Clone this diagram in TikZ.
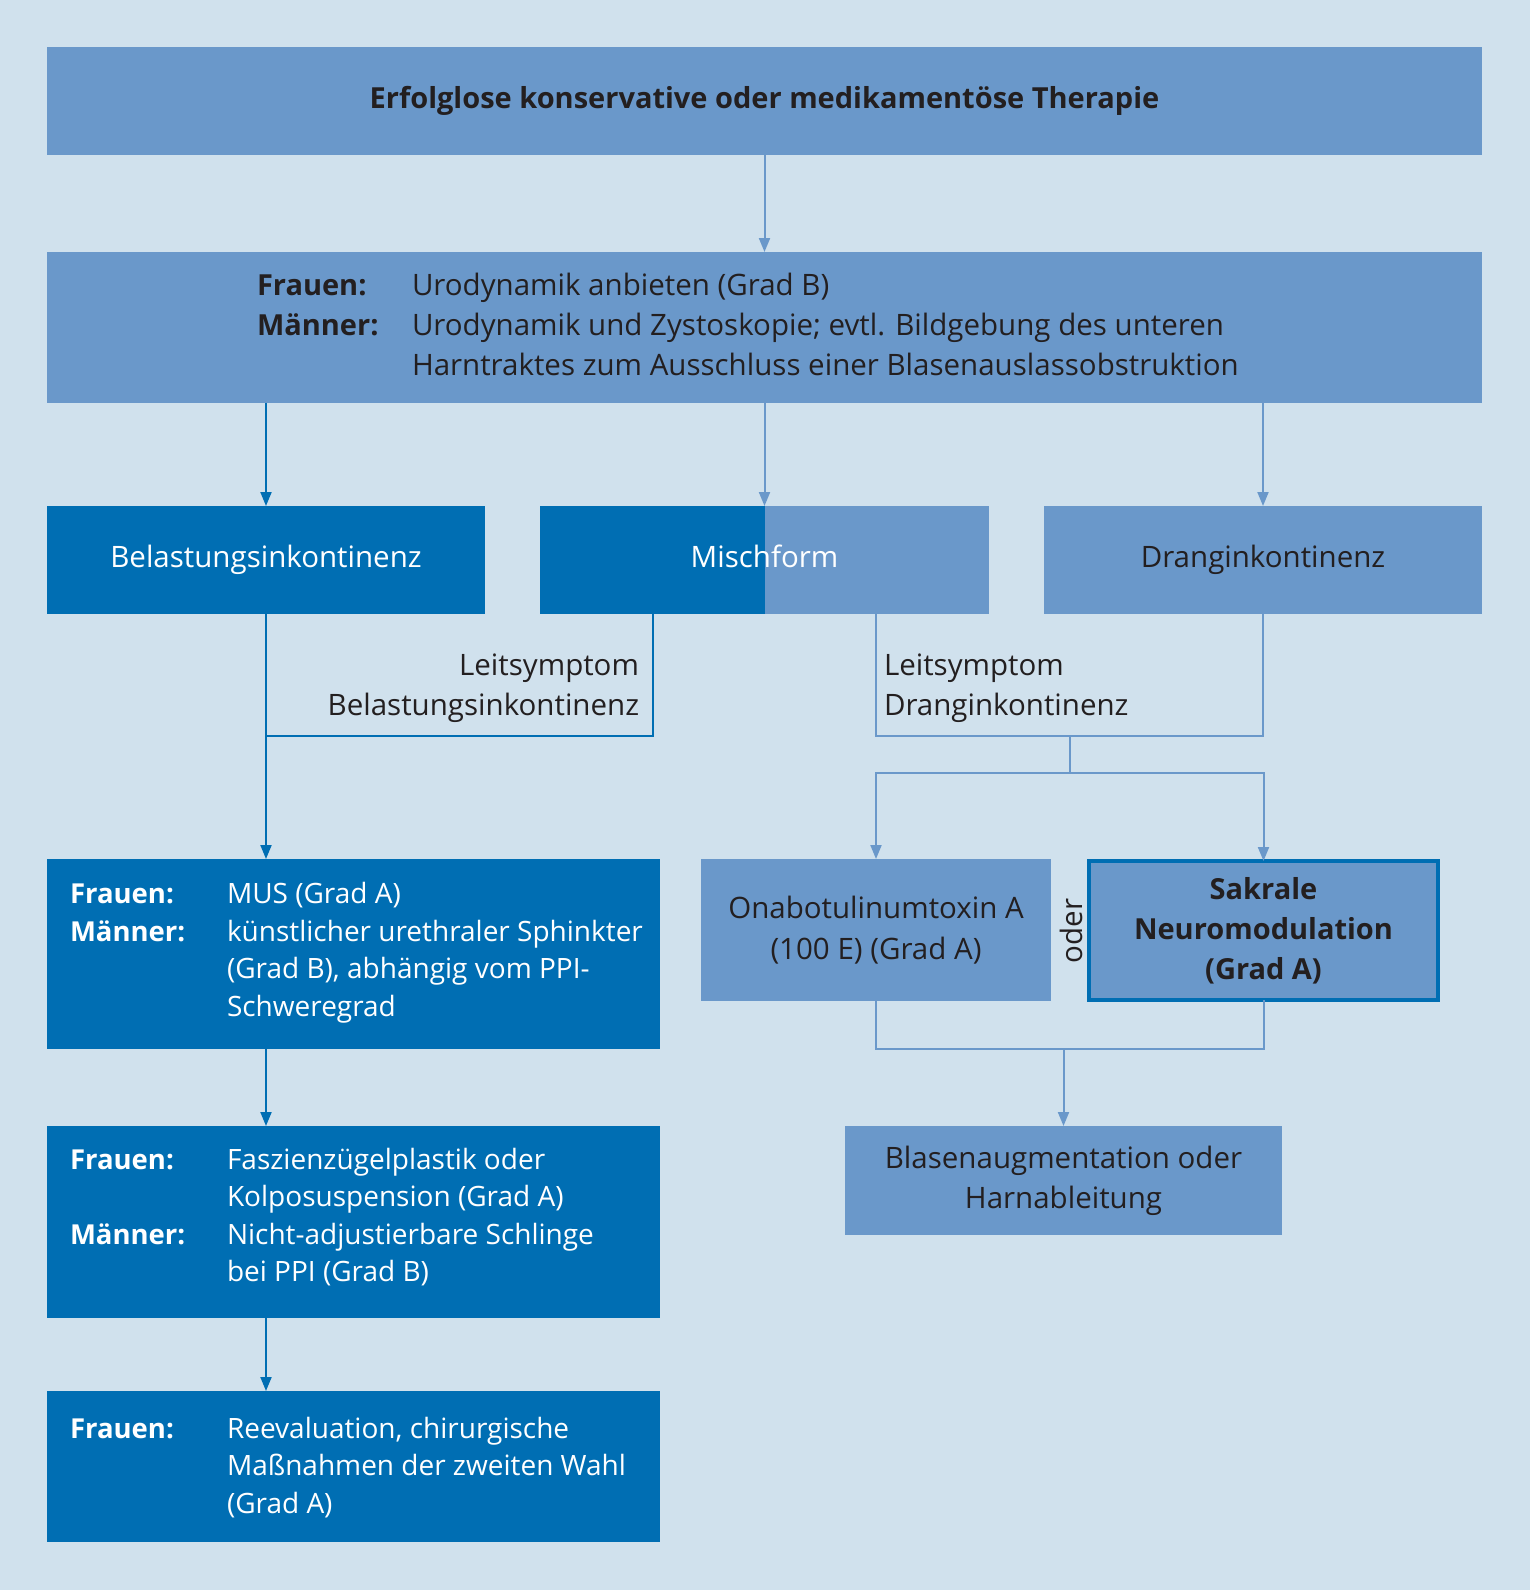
\documentclass[tikz,border=0pt]{standalone}
\usepackage{fontspec}
\setmainfont{Open Sans}
\usetikzlibrary{arrows.meta}
\definecolor{bg}{HTML}{D0E1ED}
\definecolor{dkb}{HTML}{006EB3}
\definecolor{ltb}{HTML}{6A98CA}
\definecolor{txtc}{HTML}{231F20}
\newcommand{\fs}{\fontsize{29.5}{37}\selectfont}
\newcommand{\fsb}{\fontsize{29.5}{40}\selectfont}
\newcommand{\fbd}{\fontsize{29}{37}\selectfont\bfseries}
\newcommand{\fbdw}{\fontsize{29}{40}\selectfont\bfseries}
\newcommand{\fsl}{\fontsize{28}{37}\selectfont}
\newcommand{\fbl}{\fontsize{27.5}{37}\selectfont\bfseries}
\begin{document}
\begin{tikzpicture}[x=1pt,y=-1pt,
  boxb/.style={rectangle, inner sep=0pt, outer sep=0pt},
  lbox/.style={boxb, fill=ltb, text=txtc},
  dbox/.style={boxb, fill=dkb, text=white},
  oneline/.style={text height=21pt, text depth=7pt},
  tx/.style={inner sep=0pt, outer sep=0pt, font=\fs, text=txtc},
  wtx/.style={inner sep=0pt, outer sep=0pt, font=\fsl, text=white},
  wtxb/.style={wtx, font=\fbl},
  dline/.style={draw=dkb, line width=2pt},
  lline/.style={draw=ltb, line width=2pt},
  arr/.style={-{Triangle[length=14pt,width=11pt]}}
]
\fill[bg] (0,0) rectangle (1530,1590);
\useasboundingbox (0,0) rectangle (1530,1590);

% boxes
\node[lbox, oneline, minimum width=1435pt, minimum height=108pt, font=\fbd] (top) at (764.5,101) {Erfolglose konservative oder medikamentöse Therapie};
\node[lbox, minimum width=1435pt, minimum height=151pt] (box2) at (764.5,327.5) {};
\node[dbox, oneline, minimum width=438pt, minimum height=108pt, font=\fs] (belast) at (266,560) {Belastungsinkontinenz};
\node[boxb, oneline, minimum width=449pt, minimum height=108pt, text=white, font=\fs,
  path picture={\fill[dkb] (path picture bounding box.north west) rectangle (path picture bounding box.south);
                \fill[ltb] (path picture bounding box.north) rectangle (path picture bounding box.south east);}] (misch) at (764.5,560) {Mischform};
\node[lbox, oneline, minimum width=438pt, minimum height=108pt, font=\fs] (drang) at (1263,560) {Dranginkontinenz};

\node[dbox, minimum width=613pt, minimum height=190pt] (mus) at (353.5,954) {};
\node[dbox, minimum width=613pt, minimum height=192pt] (fasz) at (353.5,1222) {};
\node[dbox, minimum width=613pt, minimum height=151pt] (reev) at (353.5,1466.5) {};

\node[lbox, minimum width=350pt, minimum height=142pt, align=center, font=\fontsize{29.5}{41}\selectfont] (ona) at (876,930) {Onabotulinumtoxin A\\(100 E) (Grad A)};
\node[lbox, draw=dkb, line width=4pt, minimum width=349pt, minimum height=139pt, align=center, font=\fbdw] (sak) at (1263.5,930.5) {Sakrale\\Neuromodulation\\(Grad A)};
\node[lbox, minimum width=437pt, minimum height=109pt, align=center, font=\fsb] (blasen) at (1063.5,1180.5) {Blasenaugmentation oder\\Harnableitung};

% box2 text
\node[tx, anchor=base west, font=\fbdw] (b2f) at (257,295) {Frauen:};
\node[tx, anchor=base west, font=\fbdw] (b2m) at (257,335) {Männer:};
\node[tx, anchor=base west] (b2t1) at (412,295) {Urodynamik anbieten (Grad B)};
\node[tx, anchor=base west] (b2t2) at (412,335) {Urodynamik und Zystoskopie; evtl. Bildgebung des unteren};
\node[tx, anchor=base west] (b2t3) at (412,375) {Harntraktes zum Ausschluss einer Blasenauslassobstruktion};

% Leitsymptom labels
\node[tx, anchor=base east] (ls1a) at (639,675) {Leitsymptom};
\node[tx, anchor=base east] (ls1b) at (639,715) {Belastungsinkontinenz};
\node[tx, anchor=base west] (ls2a) at (884,675) {Leitsymptom};
\node[tx, anchor=base west] (ls2b) at (884,715) {Dranginkontinenz};

% left column texts
\node[wtxb, anchor=base west] (musf) at (70,903) {Frauen:};
\node[wtxb, anchor=base west] (musm) at (70,941) {Männer:};
\node[wtx, anchor=base west] (must1) at (227,903) {MUS (Grad A)};
\node[wtx, anchor=base west] (must2) at (227,941) {künstlicher urethraler Sphinkter};
\node[wtx, anchor=base west] (must3) at (227,978) {(Grad B), abhängig vom PPI-};
\node[wtx, anchor=base west] (must4) at (227,1016) {Schweregrad};

\node[wtxb, anchor=base west] (faszf) at (70,1169) {Frauen:};
\node[wtxb, anchor=base west] (faszm) at (70,1244) {Männer:};
\node[wtx, anchor=base west] (faszt1) at (227,1169) {Faszienzügelplastik oder};
\node[wtx, anchor=base west] (faszt2) at (227,1206) {Kolposuspension (Grad A)};
\node[wtx, anchor=base west] (faszt3) at (227,1244) {Nicht-adjustierbare Schlinge};
\node[wtx, anchor=base west] (faszt4) at (227,1281) {bei PPI (Grad B)};

\node[wtxb, anchor=base west] (reevf) at (70,1438) {Frauen:};
\node[wtx, anchor=base west] (reevt1) at (227,1438) {Reevaluation, chirurgische};
\node[wtx, anchor=base west] (reevt2) at (227,1475) {Maßnahmen der zweiten Wahl};
\node[wtx, anchor=base west] (reevt3) at (227,1513) {(Grad A)};

\node[tx, rotate=90] (oder) at (1071,931) {oder};

% connectors
\draw[lline, arr] (top.south) -- (box2.north);
\draw[dline, arr] (box2.south -| belast.north) -- (belast.north);
\draw[lline, arr] (box2.south -| misch.north) -- (misch.north);
\draw[lline, arr] (box2.south -| drang.north) -- (drang.north);

\coordinate (j1) at (266,736);
\coordinate (mL) at (653,736);
\draw[dline] (belast.south) -- (j1);
\draw[dline] (mL |- misch.south) -- (mL) -- (j1);
\draw[dline, arr] (j1) -- (j1 |- mus.north);

\coordinate (mR) at (876,736);
\coordinate (j2) at (1070,736);
\coordinate (j3) at (1070,773);
\draw[lline] (mR |- misch.south) -- (mR) -- (drang.south |- mR) -- (drang.south);
\draw[lline] (j2) -- (j3);
\draw[lline, arr] (j3) -| (ona.north);
\draw[lline, arr] (j3) -| (sak.north);

\coordinate (j4) at (1063.5,1049);
\draw[lline] (ona.south) -- (ona.south |- j4) -- (sak.south |- j4) -- (sak.south);
\draw[lline, arr] (j4) -- (blasen.north);

\draw[dline, arr] (j1 |- mus.south) -- (j1 |- fasz.north);
\draw[dline, arr] (j1 |- fasz.south) -- (j1 |- reev.north);
\end{tikzpicture}
\end{document}
